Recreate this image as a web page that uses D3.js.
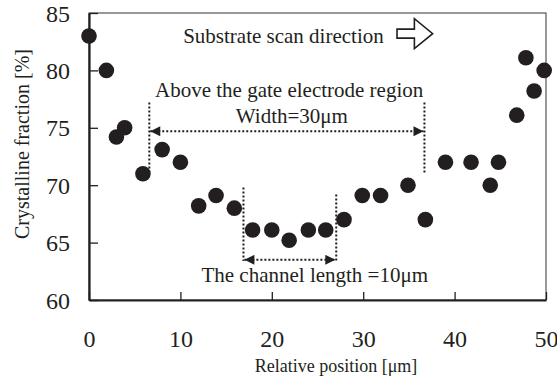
<!DOCTYPE html>
<html>
<head>
<meta charset="utf-8">
<script src="https://cdn.jsdelivr.net/npm/d3@7"></script>
<style>
  body { margin: 0; background: #fff; }
  svg text { font-family: 'Liberation Serif', 'Times New Roman', serif; fill: #231f20; }
</style>
</head>
<body>
<div id="chart"></div>
<script>
// measured positions (µm) and crystalline fraction (%)
const positions = [0, 1.9, 3, 3.9, 5.9, 8, 10, 12, 13.9, 15.9, 17.9, 20, 21.9, 24, 25.9, 27.9,
  29.9, 31.9, 34.9, 36.8, 39, 41.8, 43.9, 44.8, 46.8, 47.8, 48.7, 49.8];
const fractions = [83, 80, 74.2, 75, 71, 73.1, 72, 68.2, 69.1, 68, 66.1, 66.1, 65.2, 66.1, 66.1, 67,
  69.1, 69.1, 70, 67, 72, 72, 70, 72, 76.1, 81.1, 78.2, 80];
const xTicks = [0, 10, 20, 30, 40, 50];
const yTicks = [60, 65, 70, 75, 80, 85];

// annotation spans, in data units
const gateSpan = [6.6, 36.7];
const channelSpan = [16.9, 27.05];

const width = 557;
const height = 384;
const margin = { top: 13, right: 11, bottom: 84, left: 89 };
const ink = '#231f20';

const svg = d3
  .select('#chart')
  .append('svg')
  .attr('width', width)
  .attr('height', height);

const x = d3.scaleLinear().domain([0, 50]).range([margin.left, width - margin.right]);
const y = d3.scaleLinear().domain([60, 85]).range([height - margin.bottom, margin.top]);

// arrow heads
const defs = svg.append('defs');
defs
  .append('marker')
  .attr('id', 'tri')
  .attr('viewBox', '0 0 10 10')
  .attr('refX', 10)
  .attr('refY', 5)
  .attr('markerWidth', 11)
  .attr('markerHeight', 10)
  .attr('markerUnits', 'userSpaceOnUse')
  .attr('orient', 'auto-start-reverse')
  .append('path')
  .attr('d', 'M0,0L10,5L0,10Z')
  .attr('fill', ink);

// frame
svg
  .append('rect')
  .attr('x', x(0))
  .attr('y', y(85))
  .attr('width', x(50) - x(0))
  .attr('height', y(60) - y(85))
  .attr('fill', 'none')
  .attr('stroke', '#333')
  .attr('stroke-width', 1);

// axes, ticks pointing inwards
const xAxis = svg
  .append('g')
  .attr('transform', `translate(0,${y(60)})`)
  .call(d3.axisBottom(x).tickValues(xTicks).tickSizeInner(-8).tickSizeOuter(0).tickPadding(30));
const yAxis = svg
  .append('g')
  .attr('transform', `translate(${x(0)},0)`)
  .call(d3.axisLeft(y).tickValues(yTicks).tickSizeInner(-9).tickSizeOuter(0).tickPadding(19));

[xAxis, yAxis].forEach((g) => {
  g.attr('font-family', null).attr('font-size', null);
  g.select('.domain').attr('stroke', ink).attr('stroke-width', 2.2);
  g.selectAll('.tick line').attr('stroke', ink).attr('stroke-width', 1.3);
  g.selectAll('.tick text')
    .style('font-family', "'Liberation Serif', 'Times New Roman', serif")
    .style('font-size', '24px')
    .attr('fill', ink);
});
xAxis.selectAll('.tick text').attr('dy', '0.71em');
yAxis.selectAll('.tick text').attr('dy', '0.34em');

// axis titles
svg
  .append('text')
  .attr('x', 336)
  .attr('y', 372)
  .attr('text-anchor', 'middle')
  .style('font-size', '18px')
  .text('Relative position [μm]');

svg
  .append('text')
  .attr('transform', `translate(29,144) rotate(-90)`)
  .attr('text-anchor', 'middle')
  .style('font-size', '20px')
  .text('Crystalline fraction [%]');

// dotted guides
function dotted(x1, y1, x2, y2, arrows) {
  const l = svg
    .append('line')
    .attr('x1', x(x1))
    .attr('y1', y(y1))
    .attr('x2', x(x2))
    .attr('y2', y(y2))
    .attr('stroke', ink)
    .attr('stroke-width', 2)
    .attr('stroke-dasharray', '2,2');
  if (arrows) {
    l.attr('marker-start', 'url(#tri)').attr('marker-end', 'url(#tri)');
  }
  return l;
}

// gate electrode region
dotted(gateSpan[0], 77.2, gateSpan[0], 71.1, false);
dotted(gateSpan[1], 77.2, gateSpan[1], 71.1, false);
dotted(gateSpan[0] + 0.1, 74.7, gateSpan[1] - 0.1, 74.7, true);

// channel
dotted(channelSpan[0], 69.8, channelSpan[0], 63.4, false);
dotted(channelSpan[1], 69.2, channelSpan[1], 63.4, false);
dotted(channelSpan[0] + 0.1, 63.5, channelSpan[1] - 0.1, 63.5, true);

// points
svg
  .append('g')
  .selectAll('circle')
  .data(positions)
  .join('circle')
  .attr('cx', (d) => x(d))
  .attr('cy', (d, i) => y(fractions[i]))
  .attr('r', 7.8)
  .attr('fill', ink);

// labels
svg
  .append('text')
  .attr('x', x(21.9))
  .attr('y', y(77.7))
  .attr('text-anchor', 'middle')
  .style('font-size', '21px')
  .text('Above the gate electrode region');

svg
  .append('text')
  .attr('x', x(22.2))
  .attr('y', y(75.4))
  .attr('text-anchor', 'middle')
  .style('font-size', '21px')
  .text('Width=30μm');

svg
  .append('text')
  .attr('x', x(24.7))
  .attr('y', y(61.6))
  .attr('text-anchor', 'middle')
  .style('font-size', '21px')
  .text('The channel length =10μm');

svg
  .append('text')
  .attr('x', x(10.3))
  .attr('y', y(82.4))
  .style('font-size', '21px')
  .text('Substrate scan direction');

// hollow block arrow
const ax0 = x(33.7);
const ax1 = x(35.6);
const ax2 = x(37.6);
const ay = y(83.2);
svg
  .append('path')
  .attr(
    'd',
    `M${ax0},${ay - 4.5}L${ax1},${ay - 4.5}L${ax1},${ay - 15}L${ax2},${ay}` +
      `L${ax1},${ay + 15}L${ax1},${ay + 4.5}L${ax0},${ay + 4.5}Z`,
  )
  .attr('fill', '#fff')
  .attr('stroke', ink)
  .attr('stroke-width', 1.6)
  .attr('stroke-linejoin', 'miter');
</script>
</body>
</html>
